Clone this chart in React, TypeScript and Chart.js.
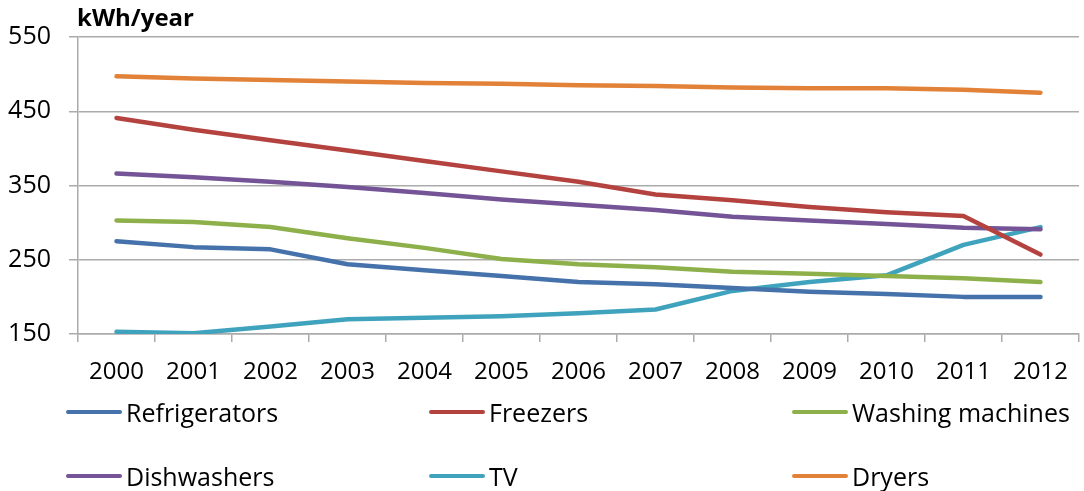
import React, { useEffect, useRef } from "react";
import { Chart, registerables } from "chart.js";

Chart.register(...registerables);

const years = ["2000", "2001", "2002", "2003", "2004", "2005", "2006", "2007", "2008", "2009", "2010", "2011", "2012"];

const refrigerators = [275, 267, 264, 244, 236, 228, 220, 217, 212, 207, 204, 200, 200];
const freezers = [441, 425, 411, 397, 383, 369, 355, 338, 330, 321, 314, 309, 257];
const washingMachines = [303, 301, 294, 279, 266, 251, 244, 240, 234, 231, 228, 225, 220];
const dishwashers = [366, 361, 355, 348, 340, 331, 324, 317, 308, 303, 298, 293, 291];
const tv = [153, 151, 160, 170, 172, 174, 178, 183, 208, 220, 229, 270, 294];
const dryers = [497, 494, 492, 490, 488, 487, 485, 484, 482, 481, 481, 479, 475];

const seriesNames = ["Refrigerators", "Freezers", "Washing machines", "Dishwashers", "TV", "Dryers"];
const seriesValues = [refrigerators, freezers, washingMachines, dishwashers, tv, dryers];
const seriesColors = ["#4572AB", "#B4433F", "#8DB04A", "#745496", "#40A3BD", "#E28238"];

const yTicks = [150, 250, 350, 450, 550];
const yTitle = "kWh/year";

const FONT = "'Open Sans', 'Liberation Sans', sans-serif";
const GRID = "#ABABAB";

export default function App() {
  const ref = useRef<HTMLCanvasElement>(null);

  useEffect(() => {
    const chart = new Chart(ref.current!, {
      type: "line",
      data: {
        labels: years,
        datasets: seriesNames.map((name, i) => ({
          label: name,
          data: seriesValues[i],
          borderColor: seriesColors[i],
          backgroundColor: seriesColors[i],
          borderWidth: 4.5,
          pointRadius: 0,
          tension: 0,
          borderCapStyle: "round" as const,
          borderJoinStyle: "round" as const,
          fill: false,
        })),
      },
      options: {
        responsive: false,
        animation: false,
        layout: { padding: { top: 37, right: 2, bottom: 107, left: 0 } },
        plugins: { legend: { display: false }, tooltip: { enabled: false }, title: { display: false } },
        scales: {
          x: {
            offset: true,
            grid: { offset: true, drawOnChartArea: false, drawTicks: true, tickLength: 8, color: GRID, lineWidth: 1.5 },
            border: { color: GRID, width: 1.5 },
            ticks: { font: { family: FONT, size: 24 }, color: "#000", padding: 16, maxRotation: 0, autoSkip: false },
            afterFit: (s: any) => {
              s.height = 50;
            },
          },
          y: {
            min: yTicks[0],
            max: yTicks[yTicks.length - 1],
            afterBuildTicks: (s: any) => {
              s.ticks = yTicks.map((v) => ({ value: v }));
            },
            grid: { color: GRID, lineWidth: 1.5, tickLength: 9 },
            border: { color: GRID, width: 1.5 },
            ticks: { font: { family: FONT, size: 25 }, color: "#000", padding: 18 },
            afterFit: (s: any) => {
              s.width = 78;
            },
          },
        },
      },
    });
    return () => chart.destroy();
  }, []);

  return (
    <div style={{ position: "absolute", left: 0, top: 0, width: 1084, height: 491, background: "#fff", overflow: "hidden" }}>
      <canvas ref={ref} width={1084} height={491} style={{ position: "absolute", left: 0, top: 0 }} />
      <div
        style={{
          position: "absolute",
          left: 77,
          top: 2,
          fontFamily: FONT,
          fontWeight: 700,
          fontSize: 24,
          color: "#000",
          lineHeight: "30px",
        }}
      >
        {yTitle}
      </div>
      {seriesNames.map((name, i) => {
        const col = i % 3;
        const row = Math.floor(i / 3);
        return (
          <div
            key={name}
            style={{
              position: "absolute",
              left: 66 + col * 363,
              top: 397 + row * 64,
              height: 30,
              display: "flex",
              alignItems: "center",
              fontFamily: FONT,
              fontSize: 25,
              color: "#000",
              whiteSpace: "nowrap",
            }}
          >
            <span
              style={{
                display: "inline-block",
                width: 56,
                height: 4.5,
                borderRadius: 3,
                background: seriesColors[i],
                marginRight: 4,
              }}
            />
            <span>{name}</span>
          </div>
        );
      })}
    </div>
  );
}
